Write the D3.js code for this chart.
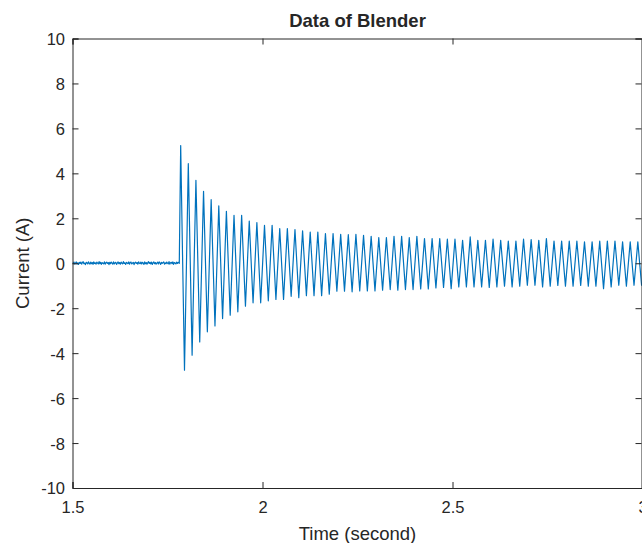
<!DOCTYPE html>
<html>
<head>
<meta charset="utf-8">
<script src="https://cdn.jsdelivr.net/npm/d3@7"></script>
<style>
	body { margin: 0; background: #fff; }
	text { font-family: "Liberation Sans", Arial, Helvetica, sans-serif; fill: #262626; }
</style>
</head>
<body>
<div id="chart"></div>
<script>
// axis ticks
var xTicks = [1.5, 2, 2.5, 3];
var yTicks = [-10, -8, -6, -4, -2, 0, 2, 4, 6, 8, 10];

// idle current before the motor starts (sampled every 2 ms from 1.5 s)
var idleStart = 1.5, idleStep = 0.002;
var idleValues = [0.03, -0.02, 0.05, -0.04, 0.01, 0.06, -0.03, 0.02, -0.05, 0.04,
	-0.01, 0.05, -0.04, 0.03, 0.07, -0.02, 0.01, -0.06, 0.04, 0.02,
	-0.03, 0.06, 0.00, -0.04, 0.05, -0.02, 0.03, -0.05, 0.06, -0.01,
	0.02, -0.04, 0.05, 0.01, -0.03, 0.07, -0.02, 0.04, -0.05, 0.03,
	0.00, -0.03, 0.06, -0.04, 0.02, 0.05, -0.01, 0.03, -0.06, 0.04,
	-0.02, 0.05, 0.01, -0.04, 0.06, -0.03, 0.02, 0.04, -0.05, 0.01,
	0.06, -0.02, 0.03, -0.04, 0.05, 0.00, -0.03, 0.07, -0.01, 0.02,
	-0.05, 0.04, 0.01, -0.02, 0.06, -0.04, 0.03, 0.05, -0.03, 0.01,
	0.04, -0.06, 0.02, 0.05, -0.01, 0.03, -0.04, 0.06, 0.00, -0.02,
	0.05, -0.03, 0.04, 0.01, -0.05, 0.06, -0.02, 0.03, -0.04, 0.02,
	0.07, -0.01, 0.04, -0.03, 0.05, -0.05, 0.02, 0.06, -0.02, 0.03,
	-0.04, 0.01, 0.05, -0.03, 0.06, 0.02, -0.05, 0.04, -0.01, 0.03,
	0.06, -0.04, 0.02, -0.02, 0.05, 0.01, -0.03, 0.07, -0.04, 0.02,
	0.04, -0.02, 0.06, -0.05, 0.03, 0.01, -0.03, 0.05, -0.01, 0.04,
	0.02];
var startupTime = 1.781;

// 50 Hz cycles after start-up: first peak time, cycle period, peak and trough currents
var cycleStart = 1.7847, cyclePeriod = 0.02005;
var peakValues = [5.24, 4.43, 3.69, 3.20, 2.83, 2.55, 2.31, 2.13, 2.13, 1.88,
	1.81, 1.69, 1.69, 1.54, 1.54, 1.50, 1.44, 1.39, 1.39, 1.32,
	1.32, 1.29, 1.27, 1.29, 1.24, 1.20, 1.14, 1.14, 1.20, 1.20,
	1.14, 1.20, 1.10, 1.10, 1.10, 1.07, 1.07, 1.02, 1.17, 1.02,
	1.02, 1.07, 1.02, 0.99, 0.99, 1.07, 1.05, 1.02, 1.10, 0.99,
	0.99, 0.99, 0.99, 0.95, 0.95, 0.99, 0.99, 0.99, 0.95, 0.95, 0.95];
var troughValues = [-4.76, -4.09, -3.50, -3.05, -2.79, -2.46, -2.31, -2.16, -1.91, -1.76,
	-1.76, -1.67, -1.61, -1.61, -1.47, -1.53, -1.44, -1.44, -1.44, -1.38,
	-1.24, -1.24, -1.27, -1.23, -1.23, -1.23, -1.20, -1.17, -1.20, -1.17,
	-1.17, -1.14, -1.14, -1.10, -1.08, -1.13, -1.05, -1.05, -1.05, -1.05,
	-1.08, -1.05, -1.02, -1.05, -1.02, -0.98, -0.98, -1.05, -1.02, -0.99,
	-1.02, -1.02, -0.99, -1.02, -1.02, -1.13, -1.05, -0.98, -1.02, -0.98, -1.00];

var width = 642, height = 543;
var plot = { left: 72.5, right: 642.5, top: 38.5, bottom: 488 };

var svg = d3.select("#chart")
	.append("svg")
	.attr("width", width)
	.attr("height", height);

var x = d3.scaleLinear().domain([1.5, 3]).range([plot.left, plot.right]);
var y = d3.scaleLinear().domain([-10, 10]).range([plot.bottom, plot.top]);

// build the series from the arrays
var series = idleValues.map((v, i) => [idleStart + i * idleStep, v]);
series.push([startupTime, 0]);
peakValues.forEach((p, i) => {
	var t = cycleStart + i * cyclePeriod;
	series.push([t, p]);
	series.push([t + cyclePeriod / 2, troughValues[i]]);
});

svg.append("clipPath").attr("id", "clip")
	.append("rect")
	.attr("x", plot.left).attr("y", plot.top)
	.attr("width", plot.right - plot.left).attr("height", plot.bottom - plot.top);

svg.append("path")
	.datum(series)
	.attr("clip-path", "url(#clip)")
	.attr("fill", "none")
	.attr("stroke", "#0072BD")
	.attr("stroke-width", 1.2)
	.attr("stroke-linejoin", "round")
	.attr("d", d3.line().x(d => x(d[0])).y(d => y(d[1])));

// box axes, ticks pointing inward
var tickLen = 6;
var axisColor = "#262626";
var fmt = d => String(d);

var xBottom = svg.append("g")
	.attr("transform", "translate(0," + plot.bottom + ")")
	.call(d3.axisBottom(x).tickValues(xTicks).tickSize(-tickLen).tickPadding(13.5).tickFormat(fmt));
var xTop = svg.append("g")
	.attr("transform", "translate(0," + plot.top + ")")
	.call(d3.axisTop(x).tickValues(xTicks).tickSize(-tickLen).tickFormat(""));
var yLeft = svg.append("g")
	.attr("transform", "translate(" + plot.left + ",0)")
	.call(d3.axisLeft(y).tickValues(yTicks).tickSize(-tickLen).tickPadding(7.5).tickFormat(fmt));
var yRight = svg.append("g")
	.attr("transform", "translate(" + (plot.right - 1) + ",0)")
	.call(d3.axisRight(y).tickValues(yTicks).tickSize(-tickLen).tickFormat(""));

[xBottom, xTop, yLeft, yRight].forEach(g => {
	g.attr("font-size", null).attr("font-family", null);
	g.select(".domain").attr("stroke", axisColor).attr("stroke-width", 1);
	g.selectAll(".tick line").attr("stroke", axisColor);
	g.selectAll(".tick text")
		.style("font-size", "16.5px")
		.attr("fill", axisColor);
});
yLeft.selectAll(".tick text").attr("dy", "0.36em");

// title and axis labels
svg.append("text")
	.attr("x", (plot.left + plot.right) / 2)
	.attr("y", 26.5)
	.attr("text-anchor", "middle")
	.style("font-size", "18.5px")
	.attr("font-weight", "bold")
	.text("Data of Blender");

svg.append("text")
	.attr("x", (plot.left + plot.right) / 2)
	.attr("y", 539.5)
	.attr("text-anchor", "middle")
	.style("font-size", "18.5px")
	.text("Time (second)");

svg.append("text")
	.attr("transform", "translate(29," + y(0) + ") rotate(-90)")
	.attr("text-anchor", "middle")
	.style("font-size", "18.5px")
	.text("Current (A)");
</script>
</body>
</html>
